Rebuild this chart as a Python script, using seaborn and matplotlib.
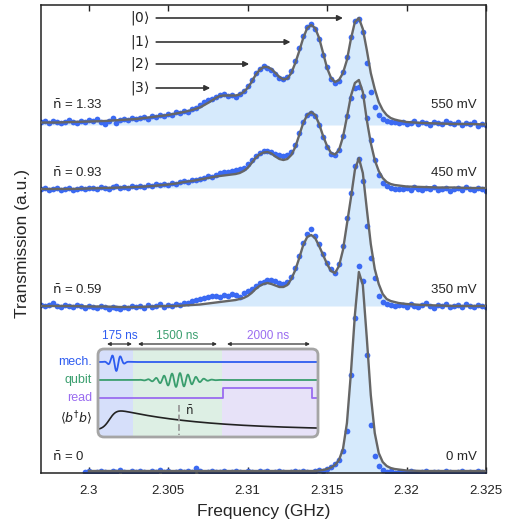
import numpy as np
import pandas as pd
import seaborn as sns
import matplotlib.pyplot as plt
from matplotlib.patches import FancyBboxPatch, Rectangle

# ---- data (heights in a.u. above each trace's baseline) ----
dot_freq = np.round(2.297 + 0.00025 * np.arange(113), 5)
bottom_dot_freq = dot_freq[11:]
fit_freq = np.concatenate([
    [2.297, 2.298, 2.299, 2.300, 2.301, 2.302, 2.303, 2.304, 2.305],
    [2.3055, 2.306, 2.3065, 2.307, 2.3075, 2.308],
    np.round(2.297 + 0.00025 * np.arange(45, 91), 5),
    [2.320, 2.321, 2.322, 2.323, 2.324, 2.325]])

voltages = ['550 mV', '450 mV', '350 mV', '0 mV']
nbar = ['1.33', '0.93', '0.59', '0']
offsets = [348, 285, 167, 0]

dots_550 = [3, 4, 2, 4, 3, 2, 3, 5, 3, 2, 4, 3, 5,
            4, 6, 3, 1, 4, 7, 2, 5, 6, 5, 7, 6,
            7, 8, 6, 9, 8, 10, 9, 11, 10, 13, 12, 14,
            13, 16, 17, 20, 23, 25, 26, 28,
            30, 31, 29, 30, 28, 31, 34, 39, 45, 52, 56, 59, 57, 55, 51, 47, 46, 48, 54, 64,
            77, 89, 98, 101, 96, 86, 70, 58, 46, 42, 44, 53, 68, 88, 104, 106, 93, 62, 33, 18,
            10, 6, 4, 3, 3, 2,
            3, 1, 2, 4, 1, 3, 2, 0, 3, 2, 1, 4, 2, 1, 3, 0, 2, 1, 3, -1, 1, 0]
dots_450 = [-1, 0, -2, -1, 0, -2, -1, 0, -2, -1, 0, -1, 0,
            0, -1, 1, 0, -1, 1, 2, 0, 1, 0, 2, 1,
            2, 1, 3, 2, 4, 3, 4, 3, 5, 4, 6, 7,
            6, 8, 8, 9, 10, 12, 11, 13,
            15, 16, 16, 17, 18, 19, 20, 24, 28, 32, 35, 37, 37, 36, 34, 33, 32, 33, 36, 43,
            55, 66, 73, 75, 72, 63, 51, 41, 34, 33, 38, 52, 72, 90, 100, 101, 92, 70, 48, 28,
            13, 5, 2, 0, -1, -1,
            -1, 0, -2, 1, -1, -2, 0, -1, 1, -2, -1, 0, -3, -1, 0, -2, 1, -1, -2, 0, -1, -3]
dots_350 = [1, 0, 1, 3, 0, -1, 1, 0, -1, 1, 0, -2, 0,
            -1, -2, 0, -1, -3, -1, -2, -3, -1, -2, 0, -1,
            0, -2, 1, -1, 0, 2, -1, 1, 0, 2, 1, 3,
            3, 5, 6, 7, 8, 9, 10, 10,
            9, 11, 10, 12, 11, 9, 13, 15, 17, 20, 23, 24, 26, 26, 25, 23, 22, 24, 29, 38,
            50, 63, 72, 77, 70, 62, 52, 43, 37, 33, 42, 60, 88, 113, 140, 147, 125, 80, 48, 28,
            10, 4, 2, 1, 0, 1,
            1, -1, 2, 0, -1, 1, 3, 0, -2, 1, 0, 2, -1, 0, 1, -1, 2, 0, -1, 1, 0, -1]
dots_0 = [1, 2, 0, 1, 2, 1, 0, 2, 1, 3, 1, 0, 2, 1,
          2, 1, 0, 2, 1, 3, 1, 2, 0, 1, 2, 1, 2, 1, 5, 2, 0, 1, 2, 1,
          1, 2, 0, 1, 2, 1, 0, 2, 1, 0, 2, 1, 2, 0, 1, 2, 1, 0, 1, 2, 1, 2, 1, 0, 2, 3,
          2, 4, 6, 9,
          13, 22, 42, 98, 155, 207, 192, 118, 48, 17, 7, 3, 1, 2, 0, 1,
          1, 0, 2, 1, 0, 1, 2, 0, 1, 1, 0, 2, 1, 0, 1, 2, 0, 1, 0, 2, 1, 0]

fit_550 = [2.5, 2.5, 3, 3.5, 4, 5, 6, 8, 10,
           11.5, 13, 15, 17.5, 22, 27,
           29, 29.5, 29.5, 29.5, 29.5, 30.5, 33, 37, 43, 50, 55, 58, 58, 56, 52, 48, 45.5,
           46.5, 52, 62, 74, 87, 97, 100, 97, 87, 72, 57, 47, 43, 45, 52, 65, 86, 103, 107,
           96, 75, 52, 36, 23, 15, 10, 7, 5.5, 4.5,
           3, 2, 1.5, 1, 1, 0.5]
fit_450 = [-1, -1, -1, -0.5, 0, 0.5, 1, 2, 3.5,
           4.5, 6, 7, 8.5, 10, 11.5,
           12, 12.5, 13, 13.5, 14, 15, 17, 20, 25, 30, 33.5, 35.5, 36, 34.5, 31.5, 29, 28,
           29, 33, 41, 53, 65, 73, 76, 73, 64, 52, 42, 35, 33.5, 38, 51, 71, 92, 105, 108,
           96, 68, 45, 28, 17, 10, 6, 4, 3, 2.5,
           1.5, 1, 0.5, 0.5, 0, 0]
fit_350 = [0, 0, 0, -0.5, -0.5, -1, -1, -0.5, 0,
           0, 0.5, 1, 1.5, 2.5, 3.5,
           4, 4.5, 5, 5.5, 6, 7, 8, 10, 13, 17, 20, 22, 23, 22, 20.5, 19, 19,
           21, 27, 36, 48, 61, 69, 71, 68, 60, 51, 42, 35, 33, 40, 56, 82, 108, 136, 148,
           133, 97, 62, 37, 22, 12, 7, 5, 4, 3,
           2, 1, 0.5, 0, 0, 0]
fit_0 = [2, 2, 2, 2, 2, 2,
         2, 2, 2, 2, 2, 2,
         2, 2, 2, 2, 2,
         2, 2, 2, 2, 2,
         2, 2, 2, 2, 2,
         2, 2, 2, 2, 2,
         2, 2, 2, 2, 2,
         2.5, 3, 4, 5.5, 8,
         13, 24, 50, 100, 158,
         201, 188, 135, 78, 40,
         20, 11, 7, 5, 4,
         3.5,
         2.5, 2, 2, 2, 2, 2]

kets = ['$|0\\rangle$', '$|1\\rangle$', '$|2\\rangle$', '$|3\\rangle$']
ket_y = [455, 431, 409, 385]
ket_arrow_end = [2.3160, 2.3127, 2.3101, 2.30765]

pulse_labels = ['175 ns', '1500 ns', '2000 ns']
channels = ['mech.', 'qubit', 'read']

# ---- build tables ----
dot_sets = [(dot_freq, dots_550), (dot_freq, dots_450), (dot_freq, dots_350), (bottom_dot_freq, dots_0)]
fit_sets = [(fit_freq, fit_550), (fit_freq, fit_450), (fit_freq, fit_350), (fit_freq[3:], fit_0)]
dot_df = pd.concat([pd.DataFrame({'freq': f, 'val': np.array(h) + off, 'trace': v})
                    for (f, h), off, v in zip(dot_sets, offsets, voltages)])
fit_df = pd.concat([pd.DataFrame({'freq': f, 'val': np.array(h) + off, 'trace': v})
                    for (f, h), off, v in zip(fit_sets, offsets, voltages)])

sns.set_theme(style='ticks')
plt.rcParams['font.family'] = ['Liberation Sans', 'DejaVu Sans']

fill_c = '#d6eafc'
dot_c = '#3b6af3'
line_c = '#666666'

fig = plt.figure(figsize=(5.26, 5.26), dpi=100)
ax = fig.add_axes([41 / 526, 53 / 526, 445 / 526, 468 / 526])

for (f, h), off in zip(fit_sets, offsets):
    ax.fill_between(f, off, np.array(h) + off, color=fill_c, lw=0, zorder=1)

sns.scatterplot(data=dot_df, x='freq', y='val', color=dot_c, s=17, linewidth=0,
                ax=ax, zorder=2)
sns.lineplot(data=fit_df, x='freq', y='val', units='trace', estimator=None, sort=False,
             color=line_c, lw=1.7, ax=ax, zorder=3)

ax.set_xlim(2.297, 2.325)
ax.set_ylim(0, 468)
ax.set_xticks([2.3, 2.305, 2.31, 2.315, 2.32, 2.325])
ax.set_xticklabels(['2.3', '2.305', '2.31', '2.315', '2.32', '2.325'])
ax.set_yticks([])
ax.tick_params(axis='x', direction='in', top=True, length=4, width=1, labelsize=9.5,
               pad=9, colors='#222222')
for s in ax.spines.values():
    s.set_color('#222222')
    s.set_linewidth(1.1)
ax.set_xlabel('Frequency (GHz)', fontsize=12.5, labelpad=5)
ax.set_ylabel('Transmission (a.u.)', fontsize=12.5)
ax.yaxis.set_label_coords(-0.025, 0.49)

# trace labels
label_y = [368, 300, 183, 16]
for nb, v, y in zip(nbar, voltages, label_y):
    ax.text(2.2977, y, '$\\mathrm{\\bar{n}}$ = ' + nb, fontsize=9.5, va='center', ha='left')
    ax.text(2.3244, y, v, fontsize=9.5, va='center', ha='right')

# ket arrows
for k, y, xe in zip(kets, ket_y, ket_arrow_end):
    ax.text(2.3032, y, k, fontsize=10, ha='center', va='center', color='#222222')
    ax.annotate('', xy=(xe, y), xytext=(2.30425, y),
                arrowprops=dict(arrowstyle='-|>', color='#333333', lw=1.2,
                                mutation_scale=8, shrinkA=0, shrinkB=0))

# ---- inset pulse sequence ----
ins = fig.add_axes([98 / 526, 89 / 526, 220 / 526, 88 / 526])
ins.set_xlim(0, 220)
ins.set_ylim(88, 0)
ins.axis('off')
box = FancyBboxPatch((0, 0), 220, 88, boxstyle='round,pad=0,rounding_size=6',
                     fc='none', ec='#a5a5a5', lw=2, clip_on=False, zorder=5)
ins.add_patch(box)
for x0, w, c in [(0, 35, '#d6dffa'), (35, 89, '#ddefe4'), (124, 96, '#e7e2f8')]:
    r = Rectangle((x0, 0), w, 88, fc=c, ec='none', zorder=0)
    r.set_clip_path(box)
    ins.add_patch(r)

blue, green, purple = '#2e5cf0', '#3a9e6e', '#9a6cf0'
xm = np.linspace(0, 220, 800)
env_m = np.exp(-((xm - 18) / 6.5) ** 2)
ins.plot(xm, 13 - 9 * env_m * np.sin(2 * np.pi * (xm - 12) / 8.5), color=blue, lw=1.3, zorder=2)
env_q = np.exp(-((xm - 80) / 20) ** 2)
ins.plot(xm, 31 - 7 * env_q * np.sin(2 * np.pi * (xm - 40) / 8), color=green, lw=1.3, zorder=2)
ins.plot([0, 125, 125, 214, 214, 220], [49, 49, 39, 39, 49, 49], color=purple, lw=1.3, zorder=2)
rise = 1 / (1 + np.exp(-(xm - 12) / 3.5))
ins.plot(xm, 81 - 26 * rise * np.exp(-xm / 85), color='#222222', lw=1.2, zorder=2)
ins.plot([81, 81], [56, 86], color='#999999', lw=1.3, ls='--', zorder=2)
ins.text(87, 62, '$\\mathrm{\\bar{n}}$', fontsize=8.5, va='center', ha='left')

for ch, y, c in zip(channels, [13, 31, 49], [blue, green, purple]):
    ins.text(-6, y, ch, color=c, fontsize=9, ha='right', va='center', clip_on=False)
ins.text(-6, 69, '$\\langle b^{\\dagger}b\\rangle$', color='#222222', fontsize=9,
         ha='right', va='center', clip_on=False)

for lab, (xa, xb), c in zip(pulse_labels, [(9, 34), (40, 119), (129, 212)], [blue, green, purple]):
    ins.text((xa + xb) / 2, -13, lab, color=c, fontsize=8.5, ha='center', va='center', clip_on=False)
    ins.annotate('', xy=(xb, -5), xytext=(xa, -5), annotation_clip=False,
                 arrowprops=dict(arrowstyle='<|-|>', color='#333333', lw=0.9,
                                 mutation_scale=5, shrinkA=0, shrinkB=0))

fig.savefig('out.png', dpi=100)
